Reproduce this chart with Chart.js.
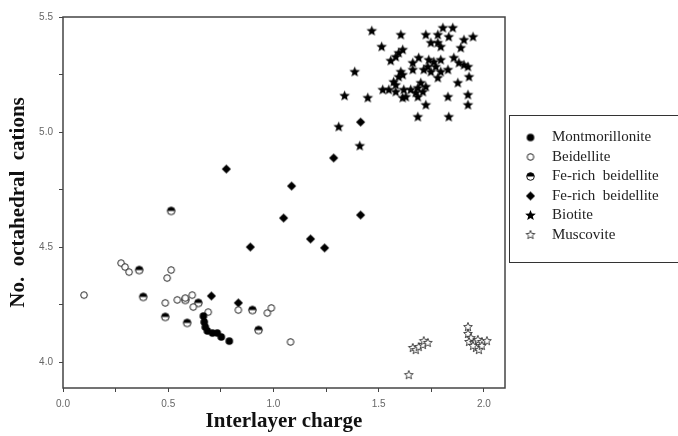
<!DOCTYPE html>
<html lang="en">
<head>
    <meta charset="UTF-8">
    <title>Interlayer charge vs octahedral cations</title>
    <script src="https://cdn.jsdelivr.net/npm/chart.js"></script>
    <style>
        body {
            margin: 0;
            background: #fff;
            overflow: hidden;
        }
        .wrap {
            width: 678px;
            height: 436px;
        }
    </style>
</head>
<body>
    <div class="wrap">
        <canvas id="scatterChart" width="678" height="436"></canvas>
    </div>

    <script>
        // series names, in legend order
        const seriesNames = ['Montmorillonite', 'Beidellite', 'Fe-rich  beidellite', 'Fe-rich  beidellite', 'Biotite', 'Muscovite'];

        // tick positions (labels only on the half steps)
        const xTickValues = [0, 0.25, 0.5, 0.75, 1.0, 1.25, 1.5, 1.75, 2.0];
        const yTickValues = [4.0, 4.25, 4.5, 4.75, 5.0, 5.25, 5.5];

        // [interlayer charge, no. octahedral cations]
        const montmorillonite = [
            [0.667, 4.200], [0.671, 4.174], [0.676, 4.152], [0.686, 4.135],
            [0.710, 4.126], [0.733, 4.126], [0.752, 4.109], [0.790, 4.091]
        ];
        const beidellite = [
            [0.100, 4.291], [0.276, 4.430], [0.295, 4.413], [0.314, 4.391],
            [0.495, 4.365], [0.514, 4.400], [0.486, 4.257], [0.543, 4.270],
            [0.581, 4.278], [0.614, 4.291], [0.619, 4.239], [0.690, 4.217],
            [0.833, 4.226], [0.971, 4.213], [0.990, 4.235], [1.081, 4.087]
        ];
        const feBeidelliteHalf = [
            [0.362, 4.400], [0.381, 4.283], [0.514, 4.657], [0.486, 4.196],
            [0.581, 4.270], [0.590, 4.170], [0.643, 4.257], [0.900, 4.226],
            [0.929, 4.139]
        ];
        const feBeidelliteFull = [
            [0.776, 4.839], [1.086, 4.765], [1.048, 4.626], [0.890, 4.500],
            [1.176, 4.535], [1.243, 4.496], [1.286, 4.887], [1.414, 4.639],
            [1.414, 5.043], [0.705, 4.287], [0.833, 4.257]
        ];
        const biotite = [
            [1.467, 5.439], [1.605, 5.422], [1.514, 5.370], [1.724, 5.422], [1.781, 5.422],
            [1.805, 5.452], [1.852, 5.452], [1.833, 5.413], [1.948, 5.413], [1.905, 5.400],
            [1.748, 5.387], [1.781, 5.387], [1.795, 5.370], [1.890, 5.365], [1.614, 5.357],
            [1.595, 5.343], [1.581, 5.326], [1.557, 5.309], [1.690, 5.322], [1.662, 5.300],
            [1.738, 5.313], [1.762, 5.304], [1.795, 5.313], [1.857, 5.322], [1.881, 5.300],
            [1.905, 5.291], [1.924, 5.283], [1.733, 5.283], [1.771, 5.283], [1.748, 5.261],
            [1.714, 5.270], [1.662, 5.270], [1.795, 5.261], [1.829, 5.270], [1.929, 5.239],
            [1.605, 5.261], [1.595, 5.239], [1.614, 5.248], [1.781, 5.235], [1.876, 5.213],
            [1.571, 5.217], [1.581, 5.204], [1.700, 5.213], [1.724, 5.196], [1.686, 5.191],
            [1.519, 5.183], [1.548, 5.183], [1.581, 5.174], [1.619, 5.183], [1.652, 5.183],
            [1.676, 5.170], [1.710, 5.174], [1.614, 5.148], [1.629, 5.152], [1.686, 5.152],
            [1.924, 5.161], [1.829, 5.152], [1.448, 5.148], [1.338, 5.157], [1.724, 5.117],
            [1.924, 5.117], [1.686, 5.065], [1.833, 5.065], [1.386, 5.261], [1.310, 5.022],
            [1.410, 4.939]
        ];
        const muscovite = [
            [1.643, 3.943], [1.662, 4.061], [1.676, 4.052], [1.690, 4.065], [1.710, 4.074],
            [1.714, 4.091], [1.733, 4.083], [1.924, 4.152], [1.924, 4.122], [1.938, 4.104],
            [1.929, 4.087], [1.952, 4.083], [1.971, 4.096], [1.990, 4.087], [2.014, 4.091],
            [1.962, 4.061], [1.976, 4.052], [1.990, 4.070], [1.948, 4.070]
        ];

        const xTitle = 'Interlayer charge';
        const yTitle = 'No.  octahedral  cations';

        // marker images
        function makeMarker(size, draw) {
            const c = document.createElement('canvas');
            c.width = size;
            c.height = size;
            const g = c.getContext('2d');
            g.translate(size / 2, size / 2);
            draw(g);
            return c;
        }
        function starPath(g, ro, ri) {
            g.beginPath();
            for (let i = 0; i < 10; i++) {
                const r = i % 2 === 0 ? ro : ri;
                const a = -Math.PI / 2 + i * Math.PI / 5;
                g.lineTo(r * Math.cos(a), r * Math.sin(a));
            }
            g.closePath();
        }
        const dotFilled = makeMarker(10, g => {
            g.beginPath(); g.arc(0, 0, 3.8, 0, Math.PI * 2);
            g.fillStyle = '#000'; g.fill();
        });
        const dotOpen = makeMarker(10, g => {
            g.beginPath(); g.arc(0, 0, 3.3, 0, Math.PI * 2);
            g.fillStyle = '#fff'; g.fill();
            g.lineWidth = 1; g.strokeStyle = '#222'; g.stroke();
        });
        const dotHalf = makeMarker(11, g => {
            g.beginPath(); g.arc(0, 0, 3.8, 0, Math.PI * 2);
            g.fillStyle = '#fff'; g.fill();
            g.beginPath(); g.arc(0, 0, 3.8, Math.PI, Math.PI * 2); g.closePath();
            g.fillStyle = '#000'; g.fill();
            g.beginPath(); g.arc(0, 0, 3.8, 0, Math.PI * 2);
            g.lineWidth = 1; g.strokeStyle = '#111'; g.stroke();
        });
        const diamond = makeMarker(11, g => {
            g.beginPath();
            g.moveTo(0, -4.6); g.lineTo(4.6, 0); g.lineTo(0, 4.6); g.lineTo(-4.6, 0);
            g.closePath();
            g.fillStyle = '#000'; g.fill();
        });
        const starFilled = makeMarker(13, g => {
            starPath(g, 5.6, 2.4);
            g.fillStyle = '#000'; g.fill();
        });
        const starOpen = makeMarker(12, g => {
            starPath(g, 4.6, 2.0);
            g.fillStyle = '#fff'; g.fill();
            g.lineWidth = 0.9; g.strokeStyle = '#333'; g.stroke();
        });

        const markers = [dotFilled, dotOpen, dotHalf, diamond, starFilled, starOpen];
        const seriesData = [montmorillonite, beidellite, feBeidelliteHalf, feBeidelliteFull, biotite, muscovite];

        const datasets = seriesData.map((rows, i) => ({
            label: seriesNames[i],
            data: rows.map(r => ({ x: r[0], y: r[1] })),
            pointStyle: markers[i],
            backgroundColor: '#000',
            borderColor: '#000'
        }));

        const onHalf = v => Math.abs(v * 2 - Math.round(v * 2)) < 1e-6;

        // frame round the plot and box round the legend
        const framePlugin = {
            id: 'frame',
            beforeUpdate(chart) {
                const lg = chart.legend;
                if (lg && !lg._wPatched) {
                    const fit = lg.fit.bind(lg);
                    lg.fit = function () { fit(); this.width = 173; };
                    lg._wPatched = true;
                }
            },
            afterLayout(chart) {
                const lg = chart.legend;
                lg.left = chart.chartArea.right + 7;
                lg.top = 125.5;
            },
            afterDraw(chart) {
                const { ctx, chartArea: a } = chart;
                ctx.save();
                ctx.strokeStyle = '#444';
                ctx.lineWidth = 1.5;
                ctx.strokeRect(a.left, a.top, a.right - a.left, a.bottom - a.top);
                ctx.lineWidth = 1;
                ctx.strokeStyle = '#333';
                ctx.strokeRect(a.right + 4.5, 115.5, 190, 147);
                ctx.restore();
            }
        };

        new Chart(document.getElementById('scatterChart'), {
            type: 'scatter',
            data: { datasets: datasets },
            options: {
                responsive: false,
                animation: false,
                layout: { padding: { top: 17, left: 0, right: 0, bottom: 0 } },
                plugins: {
                    tooltip: { enabled: false },
                    legend: {
                        position: 'right',
                        align: 'start',
                        labels: {
                            usePointStyle: true,
                            pointStyleWidth: 28,
                            padding: 4.5,
                            color: '#222',
                            font: { family: 'Liberation Serif', size: 15 }
                        }
                    }
                },
                scales: {
                    x: {
                        type: 'linear',
                        min: 0,
                        max: 2.1,
                        afterFit: s => { s.height = 48; },
                        afterBuildTicks: s => { s.ticks = xTickValues.map(v => ({ value: v })); },
                        ticks: {
                            autoSkip: false,
                            maxRotation: 0,
                            padding: 6,
                            color: '#666',
                            font: { family: 'Liberation Sans', size: 10 },
                            callback: v => onHalf(v) ? v.toFixed(1) : ''
                        },
                        grid: { drawOnChartArea: false, tickLength: 4, color: '#444', lineWidth: 1 },
                        border: { display: false },
                        title: {
                            display: true,
                            text: xTitle,
                            color: '#111',
                            padding: { top: 0, bottom: 2 },
                            font: { family: 'Liberation Serif', size: 21, weight: 'bold' }
                        }
                    },
                    y: {
                        type: 'linear',
                        min: 3.887,
                        max: 5.5,
                        afterFit: s => { s.width = 63; },
                        afterBuildTicks: s => { s.ticks = yTickValues.map(v => ({ value: v })); },
                        ticks: {
                            autoSkip: false,
                            padding: 6,
                            color: '#666',
                            font: { family: 'Liberation Sans', size: 10 },
                            callback: v => onHalf(v) ? v.toFixed(1) : ''
                        },
                        grid: { drawOnChartArea: false, tickLength: 4, color: '#444', lineWidth: 1 },
                        border: { display: false },
                        title: {
                            display: true,
                            text: yTitle,
                            color: '#111',
                            padding: { top: 6, bottom: 0 },
                            font: { family: 'Liberation Serif', size: 21, weight: 'bold' }
                        }
                    }
                }
            },
            plugins: [framePlugin]
        });
    </script>
</body>
</html>
